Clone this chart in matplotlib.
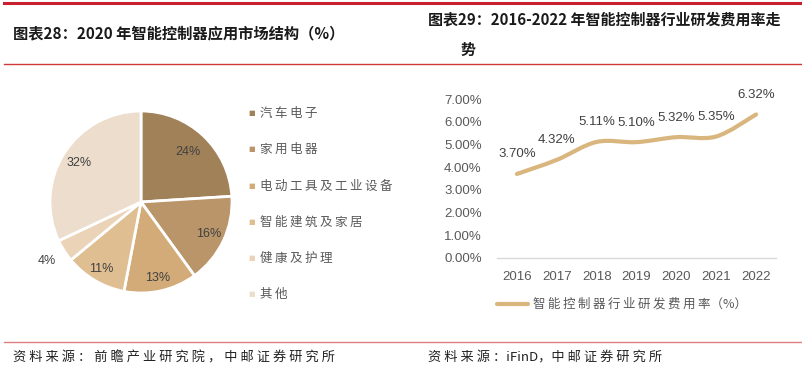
import matplotlib.pyplot as plt
from matplotlib.lines import Line2D
from matplotlib.path import Path
from matplotlib.patches import PathPatch
import numpy as np

plt.rcParams["font.family"] = ["Noto Sans CJK SC", "DejaVu Sans"]

# pie data
pie_labels = ["汽车电子", "家用电器", "电动工具及工业设备", "智能建筑及家居", "健康及护理", "其他"]
pie_values = [24, 16, 13, 11, 4, 32]
pie_colors = ["#A08158", "#B99569", "#D2AB78", "#DFBE92", "#EBD3B8", "#ECDDCC"]

# line data
years = ["2016", "2017", "2018", "2019", "2020", "2021", "2022"]
rd_ratio = [3.70, 4.32, 5.11, 5.10, 5.32, 5.35, 6.32]
line_color = "#D9B67E"

W, H = 803, 373
fig = plt.figure(figsize=(W / 100, H / 100), dpi=100)


def fx(px):
    return px / W


def fy(py):
    return 1 - py / H


# red rules
fig.add_artist(Line2D([fx(4), 1], [fy(2.5), fy(2.5)], color="#C9202F", lw=2.2))
fig.add_artist(Line2D([fx(4), 1], [fy(64), fy(64)], color="#D0383C", lw=1.0))
fig.add_artist(Line2D([fx(4), 1], [fy(342), fy(342)], color="#E07F80", lw=1.0))

# titles
fig.text(fx(13), fy(33), "图表28：2020 年智能控制器应用市场结构（%）", fontsize=11,
         fontweight="bold", va="center", ha="left", color="#1a1a1a")
fig.text(fx(428), fy(20), "图表29：2016-2022 年智能控制器行业研发费用率走", fontsize=10.8,
         fontweight="bold", va="center", ha="left", color="#1a1a1a")
fig.text(fx(460), fy(50), "势", fontsize=10.8, fontweight="bold", va="center", ha="left",
         color="#1a1a1a")

# footers
fig.text(fx(13), fy(358), " ".join("资料来源：前瞻产业研究院，中邮证券研究所"), fontsize=9.5,
         va="center", ha="left", color="#222222")
fig.text(fx(428), fy(358), " ".join("资料来源：") + "iFinD，" + " ".join("中邮证券研究所"),
         fontsize=9.5, va="center", ha="left", color="#222222")

# ---- pie ----
cx, cy, r = 141, 202, 91
ax_pie = fig.add_axes([fx(cx - r), fy(cy + r), 2 * r / W, 2 * r / H])
wedges, _ = ax_pie.pie(pie_values, colors=pie_colors, startangle=90, counterclock=False,
                       wedgeprops=dict(edgecolor="white", linewidth=2))
ax_pie.set_xlim(-1, 1)
ax_pie.set_ylim(-1, 1)
ax_pie.axis("off")

dists = [0.76, 0.82, 0.86, 0.85, 1.22, 0.8]
for w, v, d in zip(wedges, pie_values, dists):
    ang = np.deg2rad((w.theta1 + w.theta2) / 2)
    ax_pie.text(d * np.cos(ang), d * np.sin(ang), f"{v}%", ha="center", va="center",
                fontsize=9, color="#404040", family=["Liberation Sans", "DejaVu Sans"])

# pie legend
leg_y = [113, 149, 186, 222, 258, 294]
for lab, col, y in zip(pie_labels, pie_colors, leg_y):
    fig.text(fx(252), fy(y), "■", fontsize=5, color=col, va="center", ha="center",
             family=["DejaVu Sans"])
    fig.text(fx(260), fy(y), "\u2009".join(lab), fontsize=9, color="#595959",
             va="center", ha="left")

# ---- line ----
ax = fig.add_axes([fx(497), fy(258), (776 - 497) / W, (258 - 99) / H])
xs = np.arange(len(years))
ys = np.array(rd_ratio)

# smoothed curve through the points (cubic bezier, catmull-rom style)
verts = [(xs[0], ys[0])]
codes = [Path.MOVETO]
for i in range(len(xs) - 1):
    p0 = np.array([xs[max(i - 1, 0)], ys[max(i - 1, 0)]])
    p1 = np.array([xs[i], ys[i]])
    p2 = np.array([xs[i + 1], ys[i + 1]])
    p3 = np.array([xs[min(i + 2, len(xs) - 1)], ys[min(i + 2, len(xs) - 1)]])
    c1 = p1 + (p2 - p0) / 6
    c2 = p2 - (p3 - p1) / 6
    verts += [tuple(c1), tuple(c2), tuple(p2)]
    codes += [Path.CURVE4] * 3
ax.add_patch(PathPatch(Path(verts, codes), facecolor="none", edgecolor=line_color,
                       lw=3, capstyle="round", joinstyle="round"))

for x, y in zip(xs, ys):
    ax.text(x, y + 0.6, f"{y:.2f}%", ha="center", va="bottom", fontsize=9.5,
            color="#404040", family=["Liberation Sans", "DejaVu Sans"])

ax.set_xlim(-0.5, len(years) - 0.5)
ax.set_ylim(0, 7)
ax.set_yticks(np.arange(0, 8, 1))
ax.set_yticklabels([f"{v:.2f}%" for v in range(8)])
ax.set_xticks(xs)
ax.set_xticklabels(years)
for lbl in ax.get_xticklabels() + ax.get_yticklabels():
    lbl.set_family(["Liberation Sans", "DejaVu Sans"])
    lbl.set_fontsize(9.5)
    lbl.set_color("#595959")
ax.tick_params(length=0, pad=4)
ax.tick_params(axis="x", pad=9)
ax.tick_params(axis="y", pad=11)
for s in ["top", "right", "left"]:
    ax.spines[s].set_visible(False)
ax.spines["bottom"].set_color("#D9D9D9")
ax.spines["bottom"].set_linewidth(1)
ax.patch.set_alpha(0)

# line legend
fig.add_artist(Line2D([fx(497), fx(528)], [fy(304), fy(304)], color=line_color, lw=3,
                      solid_capstyle="round"))
fig.text(fx(533), fy(304), "\u2009".join("智能控制器行业研发费用率") + "（%）", fontsize=9,
         color="#595959", va="center", ha="left")

fig.savefig("out.png", dpi=100)
